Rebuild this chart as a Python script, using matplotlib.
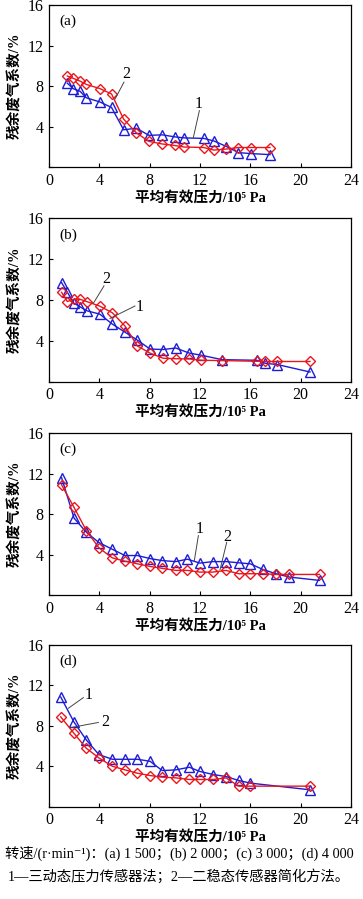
import matplotlib
matplotlib.use("Agg")
import matplotlib.pyplot as plt

plt.rcParams['font.family'] = ['Liberation Serif', 'Noto Sans CJK SC', 'DejaVu Sans']

# ---------------- data ----------------
a_x = [1.45, 1.93, 2.46, 2.97, 4.03, 4.97, 5.93, 6.94, 7.95, 9.0, 10.0, 10.75, 12.3, 13.1, 14.1, 15.05, 16.08, 17.56]
a_dyn = [8.3, 7.75, 7.5, 6.85, 6.45, 5.9, 3.7, 3.85, 3.15, 3.2, 3.0, 2.9, 2.85, 2.6, 2.05, 1.45, 1.35, 1.25]
a_sim = [9.0, 8.77, 8.5, 8.17, 7.77, 7.23, 4.75, 3.4, 2.55, 2.3, 2.15, 2.0, 1.95, 1.7, 1.8, 1.95, 1.95, 1.95]

b_x = [1.0, 1.46, 1.99, 2.46, 2.99, 4.03, 5.03, 6.04, 7.02, 8.03, 9.06, 10.07, 11.15, 12.08, 13.75, 16.5, 17.2, 18.15, 20.74]
b_dyn = [9.7, 8.75, 7.67, 7.34, 6.95, 6.62, 5.64, 4.85, 4.07, 3.2, 3.15, 3.3, 2.8, 2.6, 2.16, 2.1, 1.8, 1.68, 0.95]
b_sim = [8.75, 7.85, 8.07, 8.07, 7.85, 7.4, 6.75, 5.45, 3.5, 2.8, 2.3, 2.25, 2.23, 2.1, 2.07, 2.0, 1.98, 1.98, 1.98]

c_x = [1.0, 1.99, 2.97, 3.97, 5.03, 6.04, 7.02, 8.03, 9.0, 10.07, 11.0, 12.0, 13.0, 14.07, 15.07, 16.0, 17.0, 18.04, 19.1, 21.5]
c_dyn = [11.6, 7.6, 6.2, 5.18, 4.52, 3.9, 3.9, 3.6, 3.4, 3.3, 3.54, 3.15, 3.3, 3.3, 3.18, 3.08, 2.52, 2.1, 1.77, 1.44]
c_sim = [10.9, 8.66, 6.36, 4.66, 3.67, 3.34, 3.08, 2.82, 2.63, 2.43, 2.43, 2.26, 2.26, 2.43, 2.1, 2.1, 2.1, 2.03, 2.03, 2.03]

d_x = [0.93, 1.99, 2.97, 3.97, 5.03, 6.04, 7.02, 8.03, 9.0, 10.07, 11.15, 12.0, 13.06, 14.07, 15.07, 16.0, 20.74]
d_dyn = [10.85, 8.36, 6.59, 5.15, 4.69, 4.69, 4.69, 4.49, 3.57, 3.64, 3.9, 3.48, 3.18, 2.98, 2.59, 2.33, 1.67]
d_sim = [8.89, 7.25, 5.77, 4.82, 4.0, 3.64, 3.31, 3.08, 2.92, 2.85, 2.69, 2.69, 2.69, 2.85, 2.03, 2.03, 2.03]

panel_labels = ['(a)', '(b)', '(c)', '(d)']
x_ticks = [0, 4, 8, 12, 16, 20, 24]
y_ticks = [0, 4, 8, 12, 16]
xlabel = '平均有效压力/10⁵ Pa'
ylabel = '残余废气系数/%'
caption1 = '转速/(r·min⁻¹)：(a) 1 500；(b) 2 000；(c) 3 000；(d) 4 000'
caption2 = '1—三动态压力传感器法；2—二稳态传感器简化方法。'

# annotations: (text, text_xy, line_start, line_end) per panel
annots = [
    [('2', (6.17, 9.16), (5.96, 8.4), (5.25, 6.74)),
     ('1', (11.87, 6.25), (11.95, 5.59), (11.47, 2.94))],
    [('2', (4.58, 10.07), (4.37, 9.38), (3.52, 7.67)),
     ('1', (7.23, 7.34), (6.83, 7.41), (4.85, 6.2))],
    [('1', (11.95, 6.52), (11.87, 5.87), (11.55, 3.41)),
     ('2', (14.2, 5.77), (14.12, 5.2), (13.59, 2.49))],
    [('1', (3.13, 11.05), (2.73, 10.79), (1.54, 9.74)),
     ('2', (4.45, 8.39), (3.92, 8.33), (1.8, 7.84))],
]

series = [(a_x, a_dyn, a_sim), (b_x, b_dyn, b_sim), (c_x, c_dyn, c_sim), (d_x, d_dyn, d_sim)]

RED = '#e8161c'
BLUE = '#1c1cd6'

fig = plt.figure(figsize=(3.63, 8.99), dpi=100)
positions = [
    (0.135, 0.8139, 0.832, 0.1805),
    (0.135, 0.5754, 0.832, 0.1818),
    (0.135, 0.3382, 0.832, 0.1799),
    (0.135, 0.1027, 0.832, 0.1799),
]

for i, (pos, (xs, dyn, sim)) in enumerate(zip(positions, series)):
    ax = fig.add_axes(pos)
    ax.plot(xs, dyn, color=BLUE, lw=1.0, marker='^', markersize=6.5,
            markerfacecolor='none', markeredgecolor=BLUE, markeredgewidth=1.0, zorder=3)
    ax.plot(xs, sim, color=RED, lw=1.0, marker='D', markersize=5,
            markerfacecolor='none', markeredgecolor=RED, markeredgewidth=1.0, zorder=4)
    ax.set_xlim(0, 24)
    ax.set_ylim(0, 16)
    ax.set_xticks(x_ticks)
    ax.set_yticks(y_ticks)
    ax.set_xticklabels([str(t) for t in x_ticks])
    ax.set_yticklabels([''] + [str(t) for t in y_ticks[1:]])
    ax.tick_params(direction='in', length=3, width=0.8, labelsize=11.5, pad=4)
    for sp in ax.spines.values():
        sp.set_linewidth(0.9)
    ax.text(0.035, 0.94, panel_labels[i], transform=ax.transAxes, fontsize=11,
            ha='left', va='top')
    ax.set_xlabel(xlabel, fontsize=10.5, fontweight='bold', labelpad=2)
    ax.set_ylabel(ylabel, fontsize=10.5, fontweight='bold', labelpad=4)
    for (t, txy, ls, le) in annots[i]:
        ax.plot([ls[0], le[0]], [ls[1], le[1]], color='#444444', lw=0.7, zorder=5)
        ax.text(txy[0], txy[1], t, fontsize=11.5, ha='center', va='center', zorder=6)

fig.text(0.014, 1 - 853 / 899, caption1, fontsize=10.3, ha='left', va='center')
fig.text(0.022, 1 - 876 / 899, caption2, fontsize=10.3, ha='left', va='center')

fig.savefig('out.png', dpi=100)
